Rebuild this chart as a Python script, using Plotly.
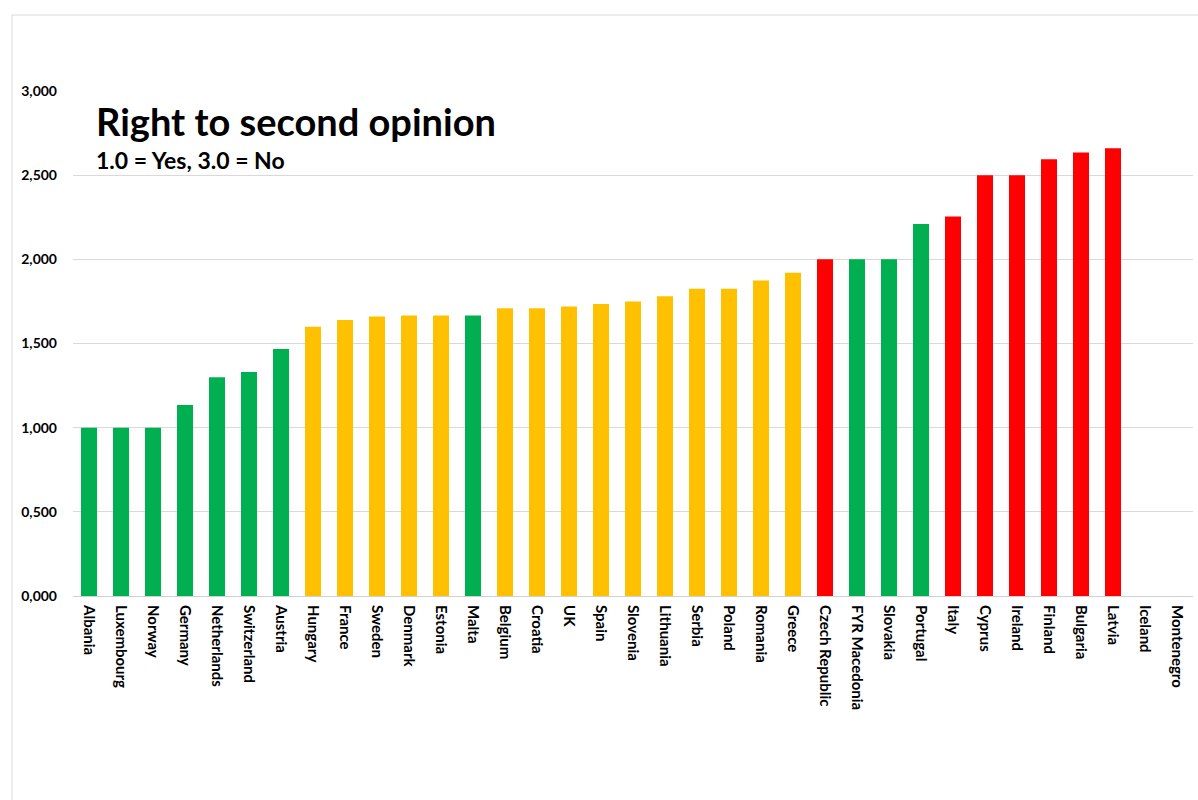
import plotly.graph_objects as go

countries = ["Albania", "Luxembourg", "Norway", "Germany", "Netherlands", "Switzerland",
             "Austria", "Hungary", "France", "Sweden", "Denmark", "Estonia", "Malta",
             "Belgium", "Croatia", "UK", "Spain", "Slovenia", "Lithuania", "Serbia",
             "Poland", "Romania", "Greece", "Czech Republic", "FYR Macedonia", "Slovakia",
             "Portugal", "Italy", "Cyprus", "Ireland", "Finland", "Bulgaria", "Latvia",
             "Iceland", "Montenegro"]
values = [1.0, 1.0, 1.0, 1.135, 1.3, 1.33, 1.467, 1.6, 1.64, 1.66, 1.667, 1.667, 1.667,
          1.71, 1.71, 1.72, 1.735, 1.75, 1.78, 1.825, 1.825, 1.875, 1.92, 2.0, 2.0, 2.0,
          2.21, 2.255, 2.5, 2.5, 2.595, 2.635, 2.66, None, None]
groups = ["G", "G", "G", "G", "G", "G", "G", "Y", "Y", "Y", "Y", "Y", "G", "Y", "Y", "Y",
          "Y", "Y", "Y", "Y", "Y", "Y", "Y", "R", "G", "G", "G", "R", "R", "R", "R", "R",
          "R", "R", "R"]
palette = {"G": "#00B050", "Y": "#FFC000", "R": "#FF0000"}
ytick_vals = [0, 0.5, 1.0, 1.5, 2.0, 2.5, 3.0]
ytick_text = ["0,000", "0,500", "1,000", "1,500", "2,000", "2,500", "3,000"]

FONT = "Lato"

fig = go.Figure(go.Bar(
    x=countries, y=values,
    marker=dict(color=[palette[g] for g in groups], line=dict(width=0)),
    hoverinfo="x+y",
))

W, H = 1198, 800
ml, mr, mt, mb = 73, 5, 91, 204
pw = W - ml - mr
ph = H - mt - mb

def px_x(x):
    return (x - ml) / pw

def px_y(y):
    return (H - mb - y) / ph

fig.update_layout(
    width=W, height=H,
    margin=dict(l=ml, r=mr, t=mt, b=mb),
    paper_bgcolor="white", plot_bgcolor="white",
    bargap=0.5, showlegend=False,
    font=dict(family=FONT, color="#000000"),
    xaxis=dict(
        tickangle=90, tickfont=dict(family=FONT, size=15, color="#000000", weight="bold"),
        showgrid=False, showline=True, linecolor="#d0d0d0", linewidth=1,
        ticks="", ticklabelstandoff=5, fixedrange=True,
    ),
    yaxis=dict(
        range=[0, 3.0], tickvals=ytick_vals, ticktext=ytick_text,
        tickfont=dict(family=FONT, size=14, color="#000000", weight="bold"),
        showgrid=True, gridcolor="#d9d9d9", gridwidth=1, zeroline=False,
        showline=False, ticks="", ticklabelstandoff=15, fixedrange=True,
    ),
    shapes=[dict(type="rect", xref="paper", yref="paper",
                 x0=px_x(12), x1=px_x(1230), y0=px_y(830), y1=px_y(15),
                 line=dict(color="#d9d9d9", width=1), fillcolor="rgba(0,0,0,0)", layer="below")],
    annotations=[
        dict(text="Right to second opinion", xref="paper", yref="paper",
             x=px_x(94), y=px_y(121), xanchor="left", yanchor="middle", showarrow=False,
             font=dict(family=FONT, size=38, color="#000000", weight="bold")),
        dict(text="1.0 = Yes, 3.0 = No", xref="paper", yref="paper",
             x=px_x(94), y=px_y(160), xanchor="left", yanchor="middle", showarrow=False,
             font=dict(family=FONT, size=23, color="#000000", weight="bold")),
    ],
)

fig.write_html("out.html")
